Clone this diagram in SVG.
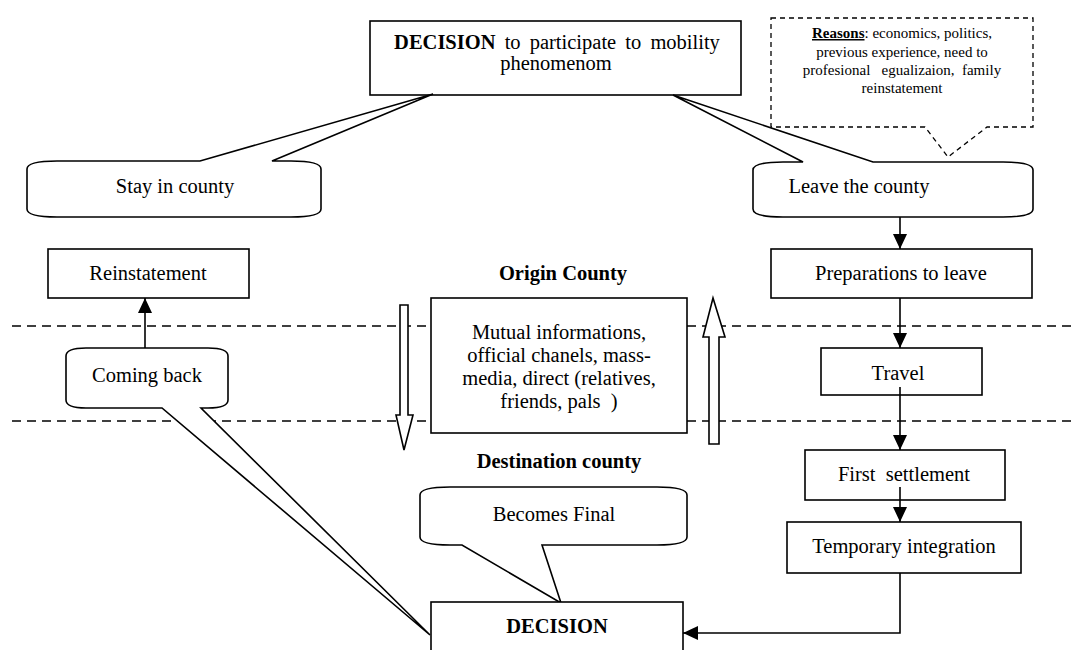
<svg xmlns="http://www.w3.org/2000/svg" width="1072" height="650" viewBox="0 0 1072 650">
<defs>
<style>
.box{fill:#fff;stroke:#000;stroke-width:1.6}
.dash{fill:#fff;stroke:#000;stroke-width:1.3;stroke-dasharray:5 4}
.sep{fill:none;stroke:#000;stroke-width:1.6;stroke-dasharray:9 6}
.t{font-family:"Liberation Serif","Times New Roman",serif;font-size:20.5px;fill:#000;text-anchor:middle}
.b{font-weight:bold}
.s{font-family:"Liberation Serif","Times New Roman",serif;font-size:15px;fill:#000;text-anchor:middle;white-space:pre}
.con{fill:none;stroke:#000;stroke-width:1.6}
</style>
<marker id="ah" markerUnits="userSpaceOnUse" markerWidth="16" markerHeight="16" refX="15" refY="7" orient="auto">
<path d="M0,0 L15,7 L0,14 Z" fill="#000"/>
</marker>
</defs>
<rect width="1072" height="650" fill="#fff"/>
<g id="separators">
<line class="sep" x1="12" y1="326" x2="1072" y2="326"/>
<line class="sep" x1="12" y1="421" x2="1072" y2="421"/>
</g>
<g id="decision-top">
<rect class="box" x="370" y="21" width="371" height="74"/>
<text class="t" x="557" y="49" word-spacing="4"><tspan class="b">DECISION</tspan> to participate to mobility</text>
<text class="t" x="556" y="70">phenomenom</text>
</g>
<g id="reasons">
<path class="dash" d="M771,18 L1033,18 L1033,127 L987,127 L948,157 L925,127 L771,127 Z"/>
<text class="s" x="902" y="38"><tspan font-weight="bold" text-decoration="underline">Reasons</tspan>: economics, politics,</text>
<text class="s" x="902" y="57">previous experience, need to</text>
<text class="s" x="902" y="75">profesional   egualizaion,  family</text>
<text class="s" x="902" y="93">reinstatement</text>
</g>
<g id="stay">
<path class="box" d="M27,169 Q27,161 57,161 L200,161 L433,94 L272,161 L291,161 Q321,161 321,169 L321,209 Q321,217 291,217 L57,217 Q27,217 27,209 Z"/>
<text class="t" x="175" y="193">Stay in county</text>
</g>
<g id="leave">
<path class="box" d="M753,170 Q753,162 783,162 L803,162 L673,95 L873,162 L1003,162 Q1033,162 1033,170 L1033,209 Q1033,217 1003,217 L783,217 Q753,217 753,209 Z"/>
<text class="t" x="859" y="193">Leave the county</text>
</g>
<g id="reinstatement">
<rect class="box" x="48" y="249" width="201" height="49"/>
<text class="t" x="148" y="280">Reinstatement</text>
</g>
<g id="origin-label">
<text class="t b" x="563" y="280">Origin County</text>
</g>
<g id="preparations">
<rect class="box" x="771" y="249" width="261" height="49"/>
<text class="t" x="901" y="280">Preparations to leave</text>
</g>
<g id="info">
<rect class="box" x="431" y="298" width="256" height="135"/>
<text class="t" x="559" y="339">Mutual informations,</text>
<text class="t" x="559" y="362">official chanels, mass-</text>
<text class="t" x="559" y="385">media, direct (relatives,</text>
<text class="t" x="559" y="408" style="white-space:pre">friends, pals  )</text>
</g>
<g id="arrow-down">
<path class="box" d="M400,305 L408,305 L408,415 L413,415 L404,450 L396,415 L400,415 Z"/>
</g>
<g id="arrow-up">
<path class="box" d="M709,444 L719,444 L719,337 L725,337 L713,298 L703,337 L709,337 Z"/>
</g>
<g id="coming-back">
<path class="box" d="M66,356 Q66,348 86,348 L208,348 Q228,348 228,356 L228,400 Q228,408 208,408 L201,408 L430,635 L162,408 L86,408 Q66,408 66,400 Z"/>
<text class="t" x="147" y="382">Coming back</text>
</g>
<g id="travel">
<rect class="box" x="821" y="348" width="161" height="47"/>
<text class="t" x="898" y="380">Travel</text>
</g>
<g id="destination-label">
<text class="t b" x="559" y="468">Destination county</text>
</g>
<g id="first-settlement">
<rect class="box" x="805" y="450" width="200" height="50"/>
<text class="t" x="904" y="481" style="white-space:pre">First  settlement</text>
</g>
<g id="becomes-final">
<path class="box" d="M420,495 Q420,487 450,487 L657,487 Q687,487 687,495 L687,537 Q687,545 657,545 L542,545 L561,603 L462,545 L450,545 Q420,545 420,537 Z"/>
<text class="t" x="554" y="521">Becomes Final</text>
</g>
<g id="temporary">
<rect class="box" x="787" y="522" width="234" height="51"/>
<text class="t" x="904" y="553">Temporary integration</text>
</g>
<g id="decision-bottom">
<rect class="box" x="431" y="602" width="252" height="60"/>
<text class="t b" x="557" y="633">DECISION</text>
</g>
<g id="connectors">
<line class="con" x1="900" y1="217" x2="900" y2="249" marker-end="url(#ah)"/>
<line class="con" x1="900" y1="298" x2="900" y2="348" marker-end="url(#ah)"/>
<line class="con" x1="900" y1="387" x2="900" y2="450" marker-end="url(#ah)"/>
<line class="con" x1="900" y1="487" x2="900" y2="522" marker-end="url(#ah)"/>
<polyline class="con" points="900,573 900,633 683,633" marker-end="url(#ah)"/>
<line class="con" x1="145" y1="348" x2="145" y2="298" marker-end="url(#ah)"/>
</g>
</svg>
